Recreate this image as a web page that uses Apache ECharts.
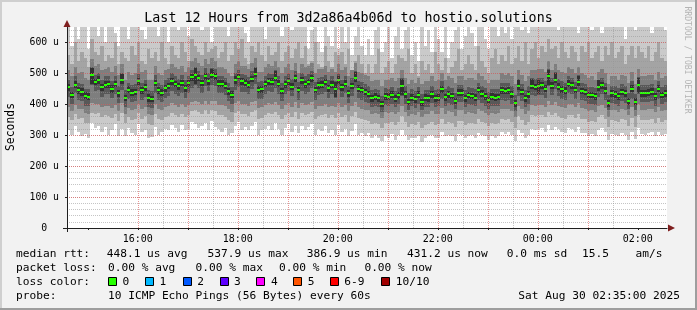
<!DOCTYPE html>
<html><head><meta charset="utf-8">
<script src="https://cdn.jsdelivr.net/npm/echarts@6/dist/echarts.min.js"></script>
<style>html,body{margin:0;padding:0;background:#f2f2f2}#c{width:697px;height:310px}</style>
</head><body><div id="c"></div>
<script>
// time axis in minutes counted from 14:00 (Aug 29)
const startMinute = 35;   // 14:35
const endMinute = 755;    // 02:35
const stepMinutes = 4;
const hourLines = [60,120,180,240,300,360,420,480,540,600,660,720];
const halfHourLines = [90,150,210,270,330,390,450,510,570,630,690,750];
const timeLabelValues = [120,240,360,480,600,720];
const timeLabelText = ['16:00','18:00','20:00','22:00','00:00','02:00'];
const yMax = 650; // microseconds

// median rtt (us)
const med = [
455,430,464,445,440,428,425,495,472,478,
455,464,465,450,466,435,478,420,447,437,
440,475,445,455,420,417,470,445,437,452,
460,475,466,458,470,452,468,488,496,485,
470,492,475,495,490,467,467,460,442,431,
478,488,474,470,463,483,499,447,449,466,
475,473,485,467,443,465,475,457,484,446,
477,465,472,484,446,461,463,472,452,464,
451,478,455,467,435,459,484,451,446,440,
434,420,424,420,400,426,425,431,418,429,
460,433,408,422,416,431,406,421,420,433,
419,422,449,423,433,428,412,438,437,420,
430,428,422,446,434,426,414,425,422,424,
445,443,445,432,403,458,440,419,432,460,
457,460,461,451,490,460,480,457,449,444,
467,462,446,471,443,440,430,430,426,455,
462,444,403,435,432,426,440,435,410,450,
408,464,436,436,438,441,426,450,430,436];

// sorted pings p1 (lowest) .. p10 (highest), us
const p1 = [
318,300,330,310,296,305,290,340,322,330,
312,326,300,318,336,298,320,296,324,306,
300,336,310,318,290,295,326,300,312,320,
316,334,322,310,334,318,320,344,336,322,
330,340,318,346,328,320,312,322,300,306,
330,342,318,328,316,330,344,300,318,320,
330,318,340,320,300,322,336,312,330,308,
330,318,326,336,302,320,314,330,308,318,
300,332,310,320,296,314,336,300,308,296,
306,290,300,292,280,296,290,304,286,300,
318,300,284,292,290,298,278,292,296,300,
292,290,312,296,300,298,282,304,300,290,
296,300,290,306,300,296,284,296,290,296,
310,304,310,300,282,318,306,292,300,320,
318,320,322,312,334,318,328,320,310,306,
322,320,310,328,306,308,298,304,296,318,
322,310,284,304,300,296,308,302,286,312,
288,322,304,302,306,310,296,312,300,304];
const p2 = [
360,348,368,352,356,340,338,372,370,372,
358,366,362,356,368,346,372,340,358,350,
352,372,354,362,336,334,368,354,348,360,
362,372,366,360,370,358,364,378,380,374,
368,380,370,382,378,366,366,360,350,344,
372,378,368,370,362,374,380,354,356,366,
372,370,376,366,352,366,372,360,376,354,
372,366,370,376,352,362,364,370,356,364,
356,372,358,366,344,362,376,356,352,348,
346,336,338,336,322,340,338,342,334,342,
362,342,328,336,332,342,324,334,336,344,
334,336,354,336,344,340,328,346,346,334,
340,338,336,352,344,338,330,338,336,338,
352,350,352,344,324,362,350,334,344,364,
362,364,364,358,376,364,372,362,356,354,
366,366,356,370,354,352,344,346,342,360,
364,354,326,348,346,342,352,348,330,356,
328,366,348,348,350,352,340,356,344,348];
const p3 = [
392,378,398,385,384,372,370,405,400,402,
390,396,395,388,398,378,404,370,388,382,
384,402,386,392,368,366,400,386,380,390,
394,404,398,392,400,390,398,408,412,406,
400,410,402,412,410,398,398,395,384,376,
405,410,400,402,396,406,412,388,390,398,
404,402,408,398,386,398,404,392,408,388,
404,398,402,408,386,396,396,402,390,396,
390,405,392,398,378,395,408,390,386,382,
380,370,372,370,356,374,372,376,368,376,
395,376,362,370,366,376,358,368,370,378,
368,370,388,370,378,374,362,380,380,368,
374,372,370,386,378,372,364,372,370,372,
386,384,386,378,358,396,384,368,378,398,
396,398,398,392,410,398,406,396,390,388,
400,400,390,404,388,386,378,380,376,394,
398,388,360,382,380,376,386,382,364,390,
362,400,382,382,384,386,374,390,378,382];
const p4 = [
425,402,436,414,410,396,395,462,442,445,
424,434,432,420,434,404,446,392,416,406,
410,442,414,424,390,388,438,414,406,420,
428,444,434,426,438,420,436,454,462,452,
438,460,444,462,458,436,436,430,412,400,
446,456,440,440,432,450,466,416,418,434,
444,440,454,434,412,434,444,426,452,414,
444,434,440,452,414,430,432,440,420,432,
420,446,424,436,404,428,452,420,414,408,
404,392,396,392,376,398,396,402,390,400,
428,402,382,394,388,402,380,392,392,404,
390,394,418,394,404,398,384,408,406,392,
400,398,394,414,404,396,386,396,394,396,
414,412,414,402,378,426,410,390,402,430,
426,430,430,420,458,430,450,426,418,414,
436,432,416,440,414,410,400,402,398,424,
432,414,380,404,402,396,410,404,384,418,
382,432,406,406,408,410,396,418,400,406];
const p5 = [
444,420,452,434,428,417,414,465,462,466,
444,453,454,438,455,424,466,410,436,426,
429,464,434,444,409,406,459,434,426,441,
449,464,455,446,459,441,457,476,465,474,
459,480,464,484,479,456,456,449,431,420,
466,477,463,459,452,472,488,436,438,455,
464,462,474,456,432,454,464,446,473,435,
466,454,461,473,435,450,452,461,441,453,
423,467,444,456,424,448,473,440,435,429,
423,409,413,409,390,415,414,420,407,418,
431,422,398,411,405,420,396,410,409,422,
408,411,438,412,422,417,401,427,426,409,
419,417,411,435,423,415,403,414,411,413,
434,432,434,421,392,447,429,408,421,449,
446,433,450,440,461,449,469,446,438,433,
456,451,435,460,432,429,419,419,415,444,
451,433,392,424,421,415,429,424,399,439,
397,435,425,425,427,430,415,439,419,425];
const p6 = [
466,440,474,456,452,440,436,517,482,490,
466,474,476,462,476,446,497,430,458,448,
451,486,456,466,432,428,480,456,448,462,
470,486,476,470,480,463,478,498,517,496,
480,502,486,515,500,478,478,471,452,442,
490,498,486,481,474,493,519,458,460,476,
486,484,507,478,454,476,486,468,494,456,
488,476,482,494,456,472,474,482,463,475,
473,490,466,478,446,470,505,462,456,450,
444,431,436,431,410,436,436,442,429,440,
481,444,418,433,426,442,417,432,431,444,
430,433,460,434,444,438,422,448,448,431,
441,438,433,456,445,437,425,436,432,434,
456,454,456,443,414,479,451,430,443,481,
467,483,472,462,511,471,501,468,460,455,
478,472,457,491,454,451,441,441,437,477,
472,455,414,446,443,437,451,446,421,461,
419,485,447,447,449,452,437,461,441,447];
const p7 = [
480,455,490,470,465,450,450,520,495,500,
480,490,490,475,490,460,500,445,470,462,
465,498,470,480,445,442,495,470,462,478,
485,500,490,482,495,478,492,512,520,508,
495,516,500,518,514,492,492,486,468,456,
502,512,498,494,488,508,522,472,474,490,
500,498,510,492,468,490,500,482,508,472,
502,490,497,508,472,486,488,496,477,490,
476,502,480,492,460,484,508,476,472,466,
460,446,450,446,428,452,450,456,444,454,
484,458,435,448,442,456,432,446,446,458,
445,448,474,448,458,454,438,462,462,446,
455,454,448,470,460,452,440,450,448,450,
470,468,470,458,430,482,466,445,458,484,
482,485,486,476,514,485,504,482,474,470,
492,486,472,494,468,466,456,456,452,480,
486,470,430,460,458,452,466,460,436,476,
434,488,462,462,464,466,452,476,456,462];
const p8 = [
510,490,520,500,505,485,480,545,525,530,
510,515,520,505,525,495,530,480,505,495,
500,530,505,510,480,480,525,500,495,510,
515,530,520,515,525,505,520,540,550,535,
525,545,530,550,540,520,520,515,500,490,
530,540,525,525,515,535,550,505,505,520,
530,525,540,520,500,520,530,510,535,500,
530,520,525,535,500,515,515,525,505,515,
505,530,510,520,490,510,535,505,500,495,
490,475,480,480,460,480,480,485,475,485,
510,485,465,480,470,485,465,475,475,490,
475,480,500,480,490,485,470,490,490,480,
485,485,480,500,490,480,470,480,480,480,
500,495,500,490,465,510,495,475,490,510,
510,515,515,505,540,510,530,510,505,500,
520,515,500,520,500,495,485,490,480,505,
515,500,465,490,490,480,495,490,470,505,
465,515,490,490,495,495,480,505,485,490];
const p9 = [
560,530,600,540,570,550,520,610,570,560,
590,540,560,550,600,530,570,550,540,590,
560,600,540,530,580,550,570,540,600,550,
530,590,560,550,600,570,540,610,590,570,
560,600,570,580,590,550,570,600,540,560,
600,580,610,550,530,590,570,600,560,540,
590,560,570,600,540,570,590,550,580,600,
550,590,530,540,600,530,520,590,540,520,
570,560,570,530,580,510,540,560,530,500,
530,500,530,580,500,520,540,500,530,560,
550,540,580,500,530,490,540,510,530,500,
570,530,510,550,500,520,540,580,510,530,
560,530,510,590,540,520,500,550,580,530,
560,540,590,530,550,590,540,600,530,580,
600,550,590,570,610,580,590,550,600,570,
550,590,570,540,590,570,600,550,570,590,
540,590,560,600,550,570,590,530,560,590,
550,590,570,550,590,540,570,600,550,540];
const p10 = [
690,590,700,610,650,700,580,700,660,620,
700,600,660,700,630,590,690,700,610,700,
680,700,640,610,700,670,690,620,700,660,
600,700,680,640,700,690,620,700,700,660,
640,700,690,600,700,650,680,700,620,660,
700,690,700,630,600,700,680,700,650,610,
700,660,690,700,620,680,700,640,690,700,
650,700,580,640,700,600,570,700,620,590,
700,580,650,600,700,560,620,680,590,560,
610,560,640,700,570,600,650,550,620,680,
580,640,700,560,600,540,650,590,640,570,
700,610,570,660,550,600,640,700,580,620,
680,630,590,700,650,610,580,660,700,620,
680,630,700,610,660,700,640,700,630,690,
700,650,700,680,700,690,700,640,700,680,
650,700,690,630,700,680,700,640,690,700,
630,700,680,700,650,690,700,610,680,700,
640,700,690,650,700,630,680,700,650,640];

const titleText = 'Last 12 Hours from 3d2a86a4b06d to hostio.solutions';
const yAxisName = 'Seconds';
const watermark = 'RRDTOOL / TOBI OETIKER';
const lossLabels = ['0','1','2','3','4','5','6-9','10/10'];
const lossColors = ['#26ff00','#00b8ff','#0059ff','#5e00ff','#ff00ff','#ff5500','#ff0000','#a00000'];
const statsRtt = ['448.1 us avg','537.9 us max','386.9 us min','431.2 us now','0.0 ms sd','15.5','am/s'];
const statsLoss = ['0.00 % avg','0.00 % max','0.00 % min','0.00 % now'];

const pings = [p1,p2,p3,p4,p5,p6,p7,p8,p9,p10];
const data = med.map((m, i) => {
  const row = [startMinute + i*stepMinutes, startMinute + (i+1)*stepMinutes];
  pings.forEach(p => row.push(p[i]));
  row.push(m);
  return row;
});

const shades = ['#cacaca','#a4a4a4','#7e7e7e','#585858','#323232'];
function renderItem(params, api){
  const cs = params.coordSys;
  const xa = Math.round(api.coord([api.value(0),0])[0]);
  const xb = Math.round(api.coord([api.value(1),0])[0]);
  const top = cs.y, bottom = cs.y + cs.height;
  const children = [];
  for (let k=0;k<5;k++){
    const lo = api.value(2+k), hi = api.value(11-k);
    let y1 = Math.round(api.coord([0,hi])[1]);
    let y2 = Math.round(api.coord([0,lo])[1]);
    y1 = Math.max(y1, top); y2 = Math.min(y2, bottom);
    if (y2 > y1) children.push({type:'rect', shape:{x:xa,y:y1,width:xb-xa,height:y2-y1}, style:{fill:shades[k]}});
  }
  const ym = Math.round(api.coord([0, api.value(12)])[1]);
  children.push({type:'rect', shape:{x:xa,y:ym-1,width:xb-xa,height:2}, style:{fill:lossColors[0]}});
  return {type:'group', children};
}

const mono = '"DejaVu Sans Mono", monospace';
const majorGrid = {show:true, lineStyle:{color:'rgba(222,79,79,0.6)', width:1, type:[1,1]}, showMaxLine:false, showMinLine:false};
const minorGrid = {show:true, lineStyle:{color:'rgba(150,150,150,0.55)', width:1, type:[1,1]}, showMaxLine:false, showMinLine:false};

function txt(text, x, y, size, opts){
  opts = opts || {};
  return {type:'text', x:x, y:y, silent:true, rotation: opts.rotation || 0,
    style:{text:text, font: size+'px '+mono, fill: opts.fill || '#000',
      align: opts.align || 'left', verticalAlign:'middle',
      textAlign: opts.align || 'left', textVerticalAlign:'middle'}};
}

const LF = 11.2;
const graphics = [];
// 3D frame
graphics.push({type:'rect', shape:{x:0,y:0,width:697,height:2}, style:{fill:'#cfcfcf'}, z:-1});
graphics.push({type:'rect', shape:{x:0,y:0,width:2,height:310}, style:{fill:'#cfcfcf'}, z:-1});
graphics.push({type:'rect', shape:{x:0,y:308,width:697,height:2}, style:{fill:'#9e9e9e'}, z:-1});
graphics.push({type:'rect', shape:{x:695,y:0,width:2,height:310}, style:{fill:'#9e9e9e'}, z:-1});
graphics.push(txt(titleText, 348.5, 19, 13.3, {align:'center'}));
graphics.push(txt(yAxisName, 11, 127, 11.4, {align:'center', rotation:Math.PI/2}));
graphics.push(txt(watermark, 687, 60, 8.1, {align:'center', rotation:-Math.PI/2, fill:'#b4b4b4'}));
// axis arrows and axis overhangs
graphics.push({type:'polygon', shape:{points:[[63.5,27],[70.5,27],[67,20]]}, style:{fill:'#7f1f1f'}, z:10});
graphics.push({type:'polygon', shape:{points:[[668,224.5],[668,231.5],[675,228]]}, style:{fill:'#7f1f1f'}, z:10});
graphics.push({type:'line', shape:{x1:63,y1:228.5,x2:67,y2:228.5}, style:{stroke:'#1f1f1f', lineWidth:1}, z:10});
graphics.push({type:'line', shape:{x1:67.5,y1:228,x2:67.5,y2:232}, style:{stroke:'#1f1f1f', lineWidth:1}, z:10});
// legend
const rttX = [106.7,207.6,306.7,407,506.7,582,635.6];
const lossX = [108,195.6,279,364.4];
graphics.push(txt('median rtt:', 16, 254, LF));
statsRtt.forEach((s, i) => graphics.push(txt(s, rttX[i], 254, LF)));
graphics.push(txt('packet loss:', 16, 268, LF));
statsLoss.forEach((s, i) => graphics.push(txt(s, lossX[i], 268, LF)));
graphics.push(txt('loss color:', 16, 282, LF));
const boxX = [108,145,182.7,219.6,256.4,293.3,329.8,381.3];
lossLabels.forEach((l, i) => {
  graphics.push({type:'rect', shape:{x:Math.round(boxX[i])+0.5, y:277.5, width:8, height:8}, style:{fill:lossColors[i], stroke:'#000', lineWidth:1}});
  graphics.push(txt(l, boxX[i]+14.5, 282, LF));
});
graphics.push(txt('probe:', 16, 296, LF));
graphics.push(txt('10 ICMP Echo Pings (56 Bytes) every 60s', 108, 296, LF));
graphics.push(txt('Sat Aug 30 02:35:00 2025', 680, 296, LF, {align:'right'}));

const chart = echarts.init(document.getElementById('c'), null, {renderer:'canvas'});
chart.setOption({
  backgroundColor:'#f2f2f2',
  animation:false,
  grid:{left:67, top:27, width:600, height:201, show:true, backgroundColor:'#ffffff', borderWidth:0, containLabel:false},
  xAxis:[{
    type:'value', min:startMinute, max:endMinute, z:4,
    axisLine:{show:true, onZero:false, lineStyle:{color:'#1f1f1f', width:1}},
    axisTick:{show:true, length:2, customValues:hourLines, lineStyle:{color:'#1f1f1f'}},
    axisLabel:{show:true, customValues:timeLabelValues, margin:6, color:'#000', fontFamily:'DejaVu Sans Mono', fontSize:10,
      formatter:v => timeLabelText[timeLabelValues.indexOf(v)]},
    splitLine:majorGrid
  },{
    type:'value', min:startMinute, max:endMinute, z:3, position:'bottom',
    axisLine:{show:false}, axisLabel:{show:false},
    axisTick:{show:false, customValues:halfHourLines},
    splitLine:minorGrid
  }],
  yAxis:[{
    type:'value', min:0, max:yMax, interval:100, z:4,
    axisLine:{show:true, lineStyle:{color:'#1f1f1f', width:1}},
    axisTick:{show:true, length:2, lineStyle:{color:'#1f1f1f'}},
    axisLabel:{show:true, showMaxLabel:false, margin:8, color:'#000', fontFamily:'DejaVu Sans Mono', fontSize:9.8,
      formatter:v => v === 0 ? '0  ' : v + ' u'},
    splitLine:majorGrid
  },{
    type:'value', min:0, max:yMax, interval:20, z:3, position:'left',
    axisLine:{show:false}, axisLabel:{show:false}, axisTick:{show:false},
    splitLine:minorGrid
  }],
  series:[{
    type:'custom', xAxisIndex:0, yAxisIndex:0, renderItem:renderItem, data:data,
    encode:{x:[0,1], y:[2,3,4,5,6,7,8,9,10,11,12]}, z:2, silent:true
  }],
  graphic:graphics
});
</script></body></html>
